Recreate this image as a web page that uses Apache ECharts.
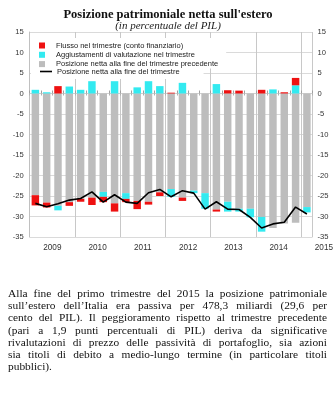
<!DOCTYPE html>
<html><head><meta charset="utf-8">
<script src="https://cdn.jsdelivr.net/npm/echarts@6/dist/echarts.min.js"></script>
<style>
html,body{margin:0;padding:0;background:#fff;}
#wrap{position:relative;width:336px;height:408px;overflow:hidden;}
#chart{position:absolute;left:0;top:0;width:336px;height:408px;}
#txt{position:absolute;left:8px;top:287px;width:319px;font-family:'Liberation Serif','Times New Roman',serif;font-size:11.4px;line-height:12.2px;color:#111;}
#txt div{text-align:justify;text-align-last:justify;white-space:nowrap;}
#txt div.last{text-align-last:left;}
</style></head>
<body><div id="wrap"><div id="chart"></div>
<div id="txt">
<div>Alla fine del primo trimestre del 2015 la posizione patrimoniale</div>
<div>sull’estero dell’Italia era passiva per 478,3 miliardi (29,6 per</div>
<div>cento del PIL). Il peggioramento rispetto al trimestre precedente</div>
<div>(pari a 1,9 punti percentuali di PIL) deriva da significative</div>
<div>rivalutazioni di prezzo delle passività di portafoglio, sia azioni</div>
<div>sia titoli di debito a medio-lungo termine (in particolare titoli</div>
<div class="last">pubblici).</div>
</div></div>
<script>
const quarters = ['2009Q1','2009Q2','2009Q3','2009Q4','2010Q1','2010Q2','2010Q3','2010Q4',
  '2011Q1','2011Q2','2011Q3','2011Q4','2012Q1','2012Q2','2012Q3','2012Q4',
  '2013Q1','2013Q2','2013Q3','2013Q4','2014Q1','2014Q2','2014Q3','2014Q4','2015Q1'];
const yearLabels = ['2009','2010','2011','2012','2013','2014','2015'];
const yTicks = [-35,-30,-25,-20,-15,-10,-5,0,5,10,15];
// Posizione netta alla fine del trimestre precedente
const prevPosition = [-24.8,-26.6,-27.4,-26.5,-25.7,-25.4,-24.0,-26.8,-24.3,-26.2,-26.4,-24.1,
  -23.3,-25.4,-23.7,-24.3,-28.3,-26.4,-28.1,-28.1,-30.1,-32.8,-31.7,-31.5,-27.7];
// Aggiustamenti di valutazione nel trimestre
const valuation = [0.9,0.3,-1.1,1.7,0.9,3.0,-1.2,3.0,-1.4,1.5,3.0,1.8,
  -1.9,2.6,-0.6,-3.8,2.3,-2.4,-0.7,-2.1,-3.6,1.0,0,2.0,-1.3];
// Flusso nel trimestre (conto finanziario)
const flow = [-2.5,-1.2,1.8,-0.9,-0.7,-1.8,-1.3,-2.0,-0.8,-2.0,-0.7,-0.9,
  0.2,-0.8,0,0,-0.5,0.8,0.7,0,0.9,0,0.3,1.8,0];
// Posizione netta alla fine del trimestre
const endPosition = [-26.8,-27.6,-26.9,-26.0,-25.6,-24.0,-26.5,-24.7,-26.5,-26.8,-24.2,-23.4,
  -25.2,-23.7,-24.3,-28.2,-26.4,-28.2,-28.3,-30.2,-32.8,-31.8,-31.4,-27.7,-29.4];

const names = {
  flow: 'Flusso nel trimestre (conto finanziario)',
  val: 'Aggiustamenti di valutazione nel trimestre',
  prev: 'Posizione netta alla fine del trimestre precedente',
  end: 'Posizione netta alla fine del trimestre'
};
const sans = 'Liberation Sans, Arial, sans-serif';
const chart = echarts.init(document.getElementById('chart'), null, {renderer:'canvas'});
const qw = 283.3/25;
chart.setOption({
  animation:false,
  backgroundColor:'#fff',
  title:{
    text:'Posizione patrimoniale netta sull\'estero',
    subtext:'(in percentuale del PIL)',
    left:'center', top:3, itemGap:0,
    textStyle:{fontFamily:'Liberation Serif',fontWeight:'bold',fontSize:12.5,color:'#111'},
    subtextStyle:{fontFamily:'Liberation Serif',fontStyle:'italic',fontSize:11,color:'#222'}
  },
  legend:[{
    data:[{name:names.flow,icon:'rect'},{name:names.val,icon:'rect'},{name:names.prev,icon:'rect'}],
    orient:'vertical', left:30, top:38, itemWidth:6, itemHeight:6, itemGap:0.3,
    padding:[3,8,0,9], backgroundColor:'#fff',
    selectedMode:false,
    textStyle:{fontFamily:sans,fontSize:7.5,lineHeight:9,color:'#222',padding:[0,0,0,6]}
  },{
    data:[{name:names.end,icon:'rect',itemStyle:{color:'#000'}}],
    orient:'vertical', left:31, top:66, itemWidth:12, itemHeight:1.6,
    padding:[1,24,3,9], backgroundColor:'#fff',
    selectedMode:false,
    textStyle:{fontFamily:sans,fontSize:7.5,lineHeight:9,color:'#222'}
  }],
  grid:{left:29.7, right:23, top:32, bottom:171},
  xAxis:[{
    type:'category', data:quarters, position:'bottom',
    axisLine:{lineStyle:{color:'#a0a0a0',width:1}},
    axisTick:{show:true,inside:true,length:3,interval:0,lineStyle:{color:'#a0a0a0'}},
    splitLine:{show:true,interval:3,lineStyle:{color:'#c8c8c8',width:1}},
    axisLabel:{
      interval:0, margin:7, color:'#333', fontFamily:sans, fontSize:8.2,
      formatter:function(v,i){
        const y = v.slice(0,4);
        if (i===24) return '{b|'+y+'}';
        if (i%4===1) return '{a|'+y+'}';
        return '';
      },
      rich:{
        a:{fontFamily:sans,fontSize:8.2,color:'#333',padding:[0,0,0,qw]},
        b:{fontFamily:sans,fontSize:8.2,color:'#333',padding:[0,0,0,qw*3]}
      }
    }
  },{
    type:'category', data:quarters, position:'top',
    axisLine:{lineStyle:{color:'#d0d0d0'}},
    axisTick:{show:true,inside:true,length:2,interval:0,lineStyle:{color:'#b0b0b0'}},
    axisLabel:{show:false}, splitLine:{show:false}
  }],
  yAxis:[{
    type:'value', min:-35, max:15, interval:5, position:'left',
    axisLine:{show:true,lineStyle:{color:'#c0c0c0'}},
    axisTick:{show:false},
    splitLine:{show:true,lineStyle:{color:'#dadada',width:1}},
    axisLabel:{margin:6,color:'#333',fontFamily:sans,fontSize:7.6}
  },{
    type:'value', min:-35, max:15, interval:5, position:'right',
    axisLine:{show:false}, axisTick:{show:false}, splitLine:{show:false},
    axisLabel:{margin:5,color:'#333',fontFamily:sans,fontSize:7.6}
  }],
  series:[{
    name:names.prev, type:'bar', stack:'s', data:prevPosition,
    barCategoryGap:'34%', itemStyle:{color:'#bdbdbd'}
  },{
    name:names.val, type:'bar', stack:'s', data:valuation,
    itemStyle:{color:'#33eaf0'}
  },{
    name:names.flow, type:'bar', stack:'s', data:flow,
    itemStyle:{color:'#ee1111'}
  },{
    name:names.end, type:'line', data:endPosition, symbol:'none',
    lineStyle:{color:'#000',width:1.6}, itemStyle:{color:'#000'}, z:5
  }]
});
</script></body></html>
